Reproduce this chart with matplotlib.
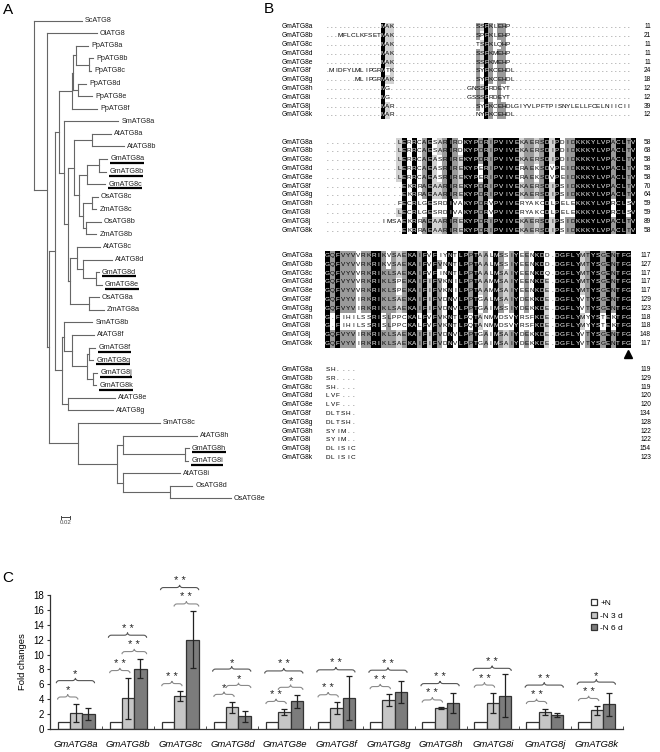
import numpy as np
import matplotlib.pyplot as plt
from collections import Counter
from matplotlib.patches import Rectangle, PathPatch
from matplotlib.path import Path

plt.rcParams["font.family"] = ["Liberation Sans", "DejaVu Sans"]

# ---------------- data ----------------
# A: neighbour-joining tree (branch lengths)
pp_clade = "(((PpATG8a:0.028,(PpATG8b:0.009,PpATG8c:0.005):0.030):0.007,(PpATG8d:0.018,PpATG8e:0.032):0.012):0.002,PpATG8f:0.058)"
ab_clade = ("((AtATG8a:0.042,AtATG8b:0.072):0.042,(((GmATG8a:0.018,GmATG8b:0.016):0.028,GmATG8c:0.042):0.018,"
            "((OsATG8c:0.012,ZmATG8c:0.009):0.021,(OsATG8b:0.035,ZmATG8b:0.025):0.005):0.009):0.012)")
cd_clade = "((AtATG8c:0.053,(AtATG8d:0.067,(GmATG8d:0.005,GmATG8e:0.012):0.030):0.014):0.016,(OsATG8a:0.023,ZmATG8a:0.035):0.042)"
a_clade = "(" + pp_clade + ":0.030,(SmATG8a:0.125,(" + ab_clade + ":0.014," + cd_clade + ":0.005):0.009):0.012)"
f_clade = ("((SmATG8b:0.065,(AtATG8f:0.051,((GmATG8f:0.014,GmATG8g:0.009):0.005,(GmATG8j:0.009,GmATG8k:0.007):0.014):0.035):0.018):0.005,"
           "(AtATG8e:0.109,AtATG8g:0.104):0.014)")
h_clade = ("(SmATG8c:0.189,((AtATG8h:0.171,(GmATG8h:0.009,GmATG8i:0.007):0.143):0.014,"
           "(AtATG8i:0.132,(OsATG8d:0.051,OsATG8e:0.139):0.109):0.014):0.090)")
tree_newick = ("(ScATG8:0.111,(OlATG8:0.115,((" + a_clade + ":0.009," + f_clade + ":0.016):0.014,"
               + h_clade + ":0.067):0.005):0.030);")

# B: alignment of soybean ATG8 proteins
seq_names = ["GmATG8a", "GmATG8b", "GmATG8c", "GmATG8d", "GmATG8e", "GmATG8f",
             "GmATG8g", "GmATG8h", "GmATG8i", "GmATG8j", "GmATG8k"]
block1 = [
    "." * 13 + "MAK" + "." * 19 + "SSFKLEHP",
    "..." + "MFLCLKFSET" + "MAK" + "." * 19 + "SPFKLEHP",
    "." * 13 + "MAK" + "." * 19 + "TSFKLQHP",
    "." * 13 + "MAK" + "." * 19 + "SSFKMEHP",
    "." * 13 + "MAK" + "." * 19 + "SSFKMEHP",
    "." + "MIDFYLMLIPGR" + "MTK" + "." * 19 + "SYFKCEHDL",
    "." * 7 + "MLIPGR" + "MAK" + "." * 19 + "SYFKCEHDL",
    "." * 13 + "MG" + "." * 18 + "GNSSFRDEYT",
    "." * 13 + "MG" + "." * 18 + "GSSSFRDEYT",
    "." * 13 + "MAR" + "." * 19 + "SYFKCEHDLGIYVLPFTPISNYLELLFCELNIICII",
    "." * 13 + "MAR" + "." * 19 + "NYFKCEHDL",
]
block2 = [
    "." * 14 + "LERRCAESARIRDKYPDRIPVIVEKAERSDIPDIDKKKYLVPACLTV",
    "." * 14 + "LERRCAESARIRDKYPDRIPVIVEKAERSDIPDIDKKKYLVPACLTV",
    "." * 14 + "LERRCAEASRIREKYPDRIPVIVEKAERSDIPDIDKKKYLVPACLTV",
    "." * 14 + "LERRCAEASRIREKYPERIPVIVERAEKSDVPEIDKKKYLVPACLTV",
    "." * 14 + "LERRCAEASRIREKYPERIPVIVERAEKSDVPEIDKKKYLVPACLTV",
    "." * 15 + "EKRRAEAARIREKYPDRIPVIVEKAERSDIPSIDKKKYLVPACLTV",
    "." * 15 + "EKRRAEAARIREKYPDRIPVIVEKAERSDIPSIDKKKYLVPACLTV",
    "." * 14 + "FECRLGESRDIVAKYPDRVPVIVERYAKCDLPELEKKKYLVPRCLSV",
    "." * 14 + "LECRLGESRDIVAKYPDRVPVIVERYAKCDLPELEKKKYLVPRCLSV",
    "." * 11 + "IMSAEKRRAEAARIREKYPDRIPVIVEKAERSDIPSIDKKKYLVPACLTV",
    "." * 15 + "EKRRAEAARIREKYPDRIPVIVEKAERSDIPSIDKKKYLVPACLTV",
]
block3 = [
    "GQFVYVVRKRIKVSAEKAIFVFIYNTLPPTAALMSSIYEENKDD.DGFLYMTYSGENTFG",
    "GQFVYVVRKRIKVSAEKAIFVFVNNTLPPTAALMSSIYEENKDD.DGFLYMTYSGENTFG",
    "GQFVYVVRKRIKLSAEKAIFVFINNTLPPTAALMSAIYEENKDQ.DGFLYMTYSGENTFG",
    "GQFVYVVRKRIKLSPEKAIFIFVKNILPPTAAMMSAIYEENKDE.DGFLYMTYSGENTFG",
    "GQFVYVVRKRIKLSPEKAIFIFVKNILPPTAAMMSAIYEENKDE.DGFLYMTYSGENTFG",
    "GQFVYVIRKRIKLSAEKAIFIFVDNVLPPTGALMSAIYDEKKDE.DGFLYVTYSGENTFG",
    "GQFVYVIRKRIKLSAEKAIFIFVDNVLPPTGAIMSSIYDEKKDE.DGFLYVTYSGENTFG",
    "G.FIHILSSRISLPPCKALFVFVKNTLPQTANMMDSVYRSFKDE.DGFLYMYYSTEKTFG",
    "G.FIHILSSRISLPPCKALFVFVKNTLPQTANMMDSVYRSFKDE.DGFLYMYYSTEKTFG",
    "GQFVYVIRKRIKLSAEKAIFIFVDNVLPPTGAIMSAIYDEKKDE.DGFLYVTYSGENTFG",
    "GQFVYVIRKRIKLSAEKAIFIFVDNVLPPTGAIMSAIYDEKKDE.DGFLYVTYSGENTFG",
]
block4 = ["SH....", "SR....", "SH....", "LVF...", "LVF...", "DLTSH.",
          "DLTSH.", "SYIM..", "SYIM..", "DLISIC", "DLISIC"]
block_ends = [
    [11, 21, 11, 11, 11, 24, 18, 12, 12, 39, 12],
    [58, 68, 58, 58, 58, 70, 64, 59, 59, 89, 58],
    [117, 127, 117, 117, 117, 129, 123, 118, 118, 148, 117],
    [119, 129, 119, 120, 120, 134, 128, 122, 122, 154, 123],
]

# C: qRT-PCR, fold change under N starvation
genes = ["GmATG8a", "GmATG8b", "GmATG8c", "GmATG8d", "GmATG8e", "GmATG8f",
         "GmATG8g", "GmATG8h", "GmATG8i", "GmATG8j", "GmATG8k"]
plus_n = [1, 1, 1, 1, 1, 1, 1, 1, 1, 1, 1]
minus_n3 = [2.1, 4.1, 4.4, 2.9, 2.3, 2.8, 3.9, 2.8, 3.5, 2.3, 2.5]
minus_n3_err = [1.2, 2.75, 0.7, 0.75, 0.4, 0.8, 0.8, 0.1, 1.4, 0.4, 0.6]
minus_n6 = [2.0, 8.1, 12.0, 1.7, 3.7, 4.2, 5.0, 3.5, 4.5, 1.9, 3.3]
minus_n6_err = [0.85, 1.3, 3.8, 0.7, 0.9, 2.95, 1.5, 1.4, 2.85, 0.25, 1.6]
sig_n_3d = ["*", "**", "**", "*", "**", "**", "**", "**", "**", "**", "**"]
sig_3d_6d = ["", "**", "**", "*", "*", "", "", "", "", "", ""]
sig_all = ["*", "**", "**", "*", "**", "**", "**", "**", "**", "**", "*"]


# ---------------- helpers ----------------
def parse_newick(s):
    pos = 0

    def node():
        nonlocal pos
        kids = []
        if s[pos] == "(":
            pos += 1
            while True:
                kids.append(node())
                if s[pos] == ",":
                    pos += 1
                    continue
                pos += 1
                break
        start = pos
        while s[pos] not in ":,);":
            pos += 1
        name = s[start:pos]
        length = 0.0
        if s[pos] == ":":
            pos += 1
            start = pos
            while s[pos] not in ",);":
                pos += 1
            length = float(s[start:pos])
        return {"name": name, "len": length, "kids": kids}

    return node()


fig = plt.figure(figsize=(6.6, 7.52), dpi=100)
ax = fig.add_axes([0, 0, 1, 1])
ax.set_xlim(0, 660)
ax.set_ylim(752, 0)
ax.axis("off")

# ---------------- A: tree ----------------
tree = parse_newick(tree_newick)
root_x, px_per_unit = 34.0, 433.0
leaf_y0, leaf_dy = 20.7, 12.57
leaves = []


def layout(nd, x):
    nd["x"] = x
    if not nd["kids"]:
        nd["y"] = leaf_y0 + len(leaves) * leaf_dy
        leaves.append(nd)
        return
    for k in nd["kids"]:
        layout(k, x + k["len"] * px_per_unit)
    nd["y"] = (nd["kids"][0]["y"] + nd["kids"][-1]["y"]) / 2


layout(tree, root_x)
line_col = "#666666"


def draw(nd):
    if not nd["kids"]:
        return
    ax.plot([nd["x"], nd["x"]], [nd["kids"][0]["y"], nd["kids"][-1]["y"]], color=line_col, lw=0.8)
    for k in nd["kids"]:
        ax.plot([nd["x"], k["x"]], [k["y"], k["y"]], color=line_col, lw=0.8)
        draw(k)


draw(tree)
leaf_texts = []
for lf in leaves:
    t = ax.text(lf["x"] + 3, lf["y"], lf["name"], fontsize=5.2, va="center", ha="left", color="#222222")
    leaf_texts.append((lf, t))

# scale bar
sb_x, sb_y = 61, 517
sb_len = 0.02 * px_per_unit
ax.plot([sb_x, sb_x + sb_len], [sb_y, sb_y], color="#444444", lw=0.7)
ax.plot([sb_x, sb_x], [sb_y - 1.5, sb_y + 1.5], color="#444444", lw=0.7)
ax.plot([sb_x + sb_len, sb_x + sb_len], [sb_y - 1.5, sb_y + 1.5], color="#444444", lw=0.7)
ax.text(sb_x + sb_len / 2, sb_y + 2.5, "0.02", fontsize=4.3, ha="center", va="top", color="#444444")

# ---------------- B: alignment ----------------
blocks = [block1, block2, block3, block4]
block_tops = [27, 142, 255.5, 369.5]
col_widths = [4.3, 5.1, 5.1, 5.1]
row_dy = 8.8
name_x, seq_x0, num_x = 282, 325, 651
n_rows = len(seq_names)

for bi, rows in enumerate(blocks):
    width = max(len(r) for r in rows)
    rows = [r.ljust(width, ".") for r in rows]
    cw = col_widths[bi]
    y0 = block_tops[bi]
    for ri in range(n_rows):
        y = y0 + ri * row_dy
        ax.text(name_x, y, seq_names[ri], fontsize=4.8, va="center", ha="left")
        ax.text(num_x, y, str(block_ends[bi][ri]), fontsize=4.8, va="center", ha="right")
    for c in range(width):
        col = [r[c] for r in rows]
        res = [ch for ch in col if ch != "."]
        cons, n = (Counter(res).most_common(1)[0] if res else ("", 0))
        frac = n / n_rows
        if frac == 1:
            bg = "black"
        elif frac >= 0.75:
            bg = "#9a9a9a"
        elif frac >= 0.5:
            bg = "#d2d2d2"
        else:
            bg = None
        xc = seq_x0 + (c + 0.5) * cw
        for ri, ch in enumerate(col):
            y = y0 + ri * row_dy
            fc = "black"
            if bg is not None and ch == cons:
                ax.add_patch(Rectangle((xc - cw / 2, y - row_dy / 2), cw, row_dy,
                                       facecolor=bg, edgecolor="none", lw=0))
                if bg == "black":
                    fc = "white"
            ax.text(xc, y, ch, fontsize=4.6, ha="center", va="center", color=fc)
    if bi == 2:
        # conserved Gly marked by a triangle
        xg = seq_x0 + (width - 0.5) * cw
        ax.plot([xg], [y0 + n_rows * row_dy + 1.5], marker="^", color="black", markersize=5.5)

# panel letters
ax.text(3, 10, "A", fontsize=11, va="center", ha="left")
ax.text(264, 9, "B", fontsize=11, va="center", ha="left")
ax.text(2, 578, "C", fontsize=11, va="center", ha="left")

# ---------------- C: bar chart ----------------
axc = fig.add_axes([50 / 660, 1 - 729 / 752, 573 / 660, 134 / 752])
x = np.arange(len(genes))
w = 0.237
edge = "#333333"
axc.bar(x - w, plus_n, w, color="white", edgecolor=edge, lw=0.9, label="+N")
axc.bar(x, minus_n3, w, yerr=minus_n3_err, color="#c6c6c6", edgecolor=edge, lw=0.9, label="-N 3 d",
        error_kw=dict(ecolor="#222222", elinewidth=0.9, capsize=2.2, capthick=0.9))
axc.bar(x + w, minus_n6, w, yerr=minus_n6_err, color="#7c7c7c", edgecolor=edge, lw=0.9, label="-N 6 d",
        error_kw=dict(ecolor="#222222", elinewidth=0.9, capsize=2.2, capthick=0.9))

axc.set_xlim(-0.5, len(genes) - 0.5)
axc.set_ylim(0, 18)
axc.set_yticks(np.arange(0, 19, 2))
axc.set_xticks(x)
axc.set_xticklabels(genes, fontstyle="italic", fontsize=6.8)
axc.set_xticks(np.arange(0.5, len(genes), 1), minor=True)
axc.tick_params(axis="x", which="major", length=0, pad=8)
axc.tick_params(axis="x", which="minor", direction="in", length=2.5, color=edge)
axc.tick_params(axis="y", direction="out", length=2.5, labelsize=7, pad=2, color=edge)
for sp in ["top", "right"]:
    axc.spines[sp].set_visible(False)
for sp in ["left", "bottom"]:
    axc.spines[sp].set_color(edge)
    axc.spines[sp].set_linewidth(0.9)
axc.set_ylabel("Fold changes", fontsize=6.8, labelpad=4)


def brace(x0, x1, y, color, h=0.35):
    xm = (x0 + x1) / 2
    q = 0.06
    verts = [(x0, y - h), (x0, y), (x0 + q, y), (xm - q, y), (xm, y), (xm, y + h),
             (xm, y), (xm + q, y), (x1 - q, y), (x1, y), (x1, y - h)]
    codes = [Path.MOVETO, Path.CURVE3, Path.CURVE3, Path.LINETO, Path.CURVE3, Path.CURVE3,
             Path.CURVE3, Path.CURVE3, Path.LINETO, Path.CURVE3, Path.CURVE3]
    axc.add_patch(PathPatch(Path(verts, codes), facecolor="none", edgecolor=color, lw=0.8, clip_on=False))


def stars(xm, y, s):
    axc.text(xm, y, " ".join(s), ha="center", va="bottom", fontsize=8, clip_on=False, color="#222222")


for i in range(len(genes)):
    top3 = minus_n3[i] + minus_n3_err[i]
    top6 = minus_n6[i] + minus_n6_err[i]
    y1 = max(top3, plus_n[i]) + 1.0
    x0, x1 = i - 1.5 * w, i + 0.15 * w
    brace(x0, x1, y1, "#8a8a8a")
    stars((x0 + x1) / 2, y1 + 0.2, sig_n_3d[i])
    highest = y1
    if sig_3d_6d[i]:
        y2 = max(max(top3, top6) + 1.0, y1 + 1.2)
        x0, x1 = i - 0.5 * w, i + 1.5 * w
        brace(x0, x1, y2, "#8a8a8a")
        stars((x0 + x1) / 2, y2 + 0.2, sig_3d_6d[i])
        highest = y2
    y3 = max(max(top3, top6) + 0.8, highest + 2.2)
    x0, x1 = i - 1.6 * w, i + 1.5 * w
    brace(x0, x1, y3, "#555555")
    stars((x0 + x1) / 2, y3 + 0.2, sig_all[i])

axc.legend(loc="upper left", bbox_to_anchor=(588 / 660, 1 - 596 / 752), bbox_transform=fig.transFigure,
           frameon=False, fontsize=6, handlelength=0.7, handleheight=0.7, handletextpad=0.4,
           labelspacing=0.55, borderaxespad=0)

# underline soybean genes in the tree
fig.canvas.draw()
for lf, t in leaf_texts:
    if lf["name"].startswith("Gm"):
        bb = t.get_window_extent()
        yline = 752 - bb.y0 + 0.8
        ax.plot([bb.x0, bb.x1], [yline, yline], color="black", lw=1.6, solid_capstyle="butt")

fig.savefig("out.png", dpi=100)
